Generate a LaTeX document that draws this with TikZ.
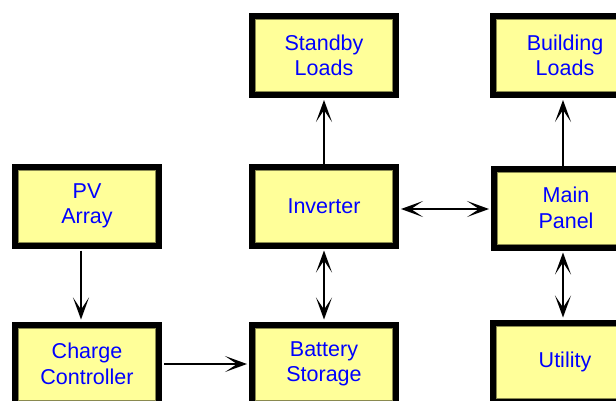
\documentclass[tikz,border=0pt]{standalone}
\usepackage{fontspec}
\setmainfont{Liberation Sans}
\usetikzlibrary{arrows.meta}
\definecolor{boxfill}{HTML}{FFFF99}
\definecolor{boxinner}{HTML}{8A8A50}
\definecolor{txtblue}{HTML}{0000FF}
\tikzset{
  blk/.style={rectangle, fill=boxfill, draw=black, line width=6pt,
    minimum width=144pt, minimum height=79pt, inner sep=0pt, outer sep=5pt,
    font=\fontsize{21.5}{25.5}\selectfont, text=txtblue, align=center},
  tipx/.tip={Stealth[length=22pt,width=16pt,inset=12pt]},
  conn/.style={line width=1.3pt, -tipx},
  conn2/.style={line width=1.3pt, tipx-tipx},
}
\newcommand{\innerline}[1]{\draw[boxinner, line width=0.8pt] ([shift={(8.4,8.4)}]#1.north west) rectangle ([shift={(-8.4,-8.4)}]#1.south east);}
\begin{document}
\begin{tikzpicture}[x=1pt,y=-1pt]
\useasboundingbox (0,0) rectangle (616,400);
\clip (0,0) rectangle (616,400);
\node[blk] (standby) at (324,55.5) {Standby\\Loads};
\node[blk] (building) at (565,55.5) {Building\\Loads};
\node[blk] (pv) at (87,206) {PV\\Array};
\node[blk] (inverter) at (324,206) {Inverter};
\node[blk] (main) at (566,208) {Main\\Panel};
\node[blk] (cc) at (87,364) {Charge\\Controller};
\node[blk] (battery) at (324,364) {Battery\\Storage};
\node[blk] (utility) at (565,362) {Utility};
\foreach \n in {standby,building,pv,inverter,main,cc,battery,utility} {\innerline{\n}}
\draw[conn] ([xshift=-6pt]pv.south) -- ([xshift=-6pt]cc.north);
\draw[conn] (cc.east) -- (cc.east -| battery.west);
\draw[conn2] (inverter.south) -- (battery.north);
\draw[conn2] ([yshift=-3pt]inverter.east) -- ([yshift=-3pt]inverter.east -| main.west);
\draw[conn] ([yshift=-5pt]inverter.north) -- (standby.south);
\draw[conn] ([xshift=-3pt,yshift=-5pt]main.north) -- ([xshift=-3pt]main.north |- building.south);
\draw[conn2] ([xshift=-3pt]main.south) -- ([xshift=-3pt]main.south |- utility.north);
\end{tikzpicture}
\end{document}
